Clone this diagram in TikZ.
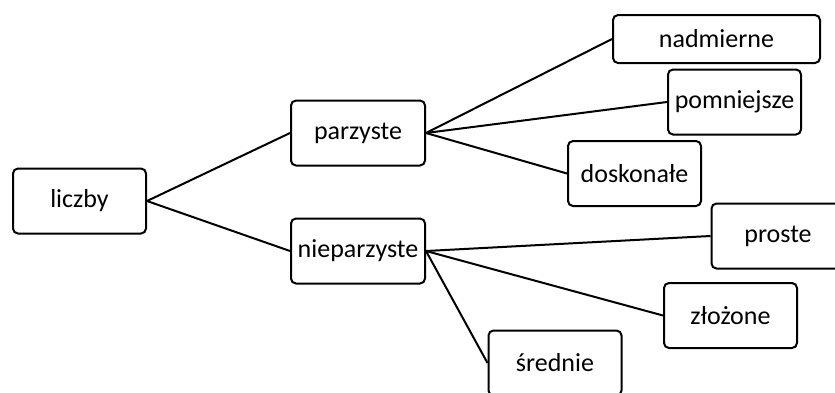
\documentclass[tikz,border=0pt]{standalone}
\usepackage{fontspec}
\setmainfont{Carlito}
\usepackage{tikz}

\begin{document}
\begin{tikzpicture}[x=1pt, y=-1pt, line width=2pt,
    box/.style={draw, rounded corners=5pt, minimum width=133pt, minimum height=65pt,
                inner sep=0pt, font=\fontsize{26}{30}\selectfont}]
  % Frame of the picture
  \clip (0,0) rectangle (835,392);

  % Root
  \node[box] (liczby) at (79.5,201) {liczby};

  % Second level
  \node[box, minimum width=134pt] (parzyste)    at (358,133) {parzyste};
  \node[box, minimum width=134pt] (nieparzyste) at (358,251) {nieparzyste};

  % Leaves of parzyste
  \node[box, minimum width=207pt, minimum height=48pt] (nadmierne) at (716.5,39) {nadmierne};
  \node[box] (pomniejsze) at (734.5,102) {pomniejsze};
  \node[box] (doskonale)  at (634.5,173.5) {doskonałe};

  % Leaves of nieparzyste
  \node[box] (proste)  at (778,236) {proste};
  \node[box] (zlozone) at (730.5,315.5) {złożone};
  \node[box] (srednie) at (555,363) {średnie};

  % Branches
  \draw (liczby.east) -- (parzyste.west);
  \draw (liczby.east) -- (nieparzyste.west);
  \draw (parzyste.east) -- (nadmierne.west);
  \draw (parzyste.east) -- (pomniejsze.west);
  \draw (parzyste.east) -- (doskonale.west);
  \draw (nieparzyste.east) -- (proste.west);
  \draw (nieparzyste.east) -- (zlozone.west);
  \draw (nieparzyste.east) -- (srednie.west);
\end{tikzpicture}
\end{document}
